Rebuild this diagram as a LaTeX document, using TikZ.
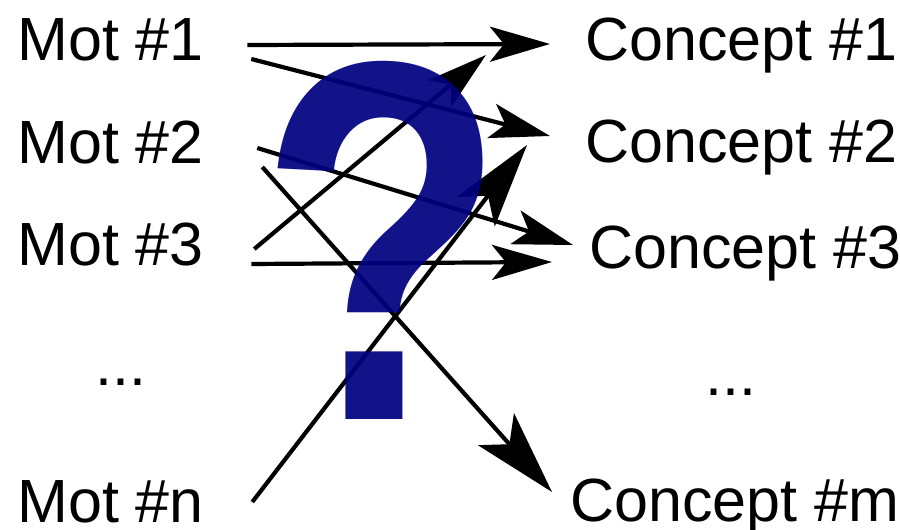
\documentclass[tikz,border=0pt]{standalone}
\usepackage{fontspec}
\setmainfont{Liberation Sans}
\usepackage{tikz}
\usetikzlibrary{arrows.meta,calc}
\definecolor{QNavy}{HTML}{000080}

\begin{document}
\begin{tikzpicture}[
  x=0.5pt, y=-0.5pt,
  wordtxt/.style={inner sep=0pt, anchor=base west, font=\fontsize{30.5}{36}\selectfont},
  linkarrow/.style={-{Stealth[length=30pt,width=17.5pt,inset=7pt]}, line width=2.1pt},
  longarrow/.style={-{Stealth[length=42pt,width=24pt,inset=10pt]}, line width=2.1pt},
  qmarkstyle/.style={inner sep=0pt, text=QNavy, text opacity=0.93, font=\fontsize{202}{202}\selectfont\bfseries}
]
\useasboundingbox (0,0) rectangle (900,530);
% mots
\node[wordtxt] (mot1) at (17,60) {Mot \#1};
\node[wordtxt] (mot2) at (17,163) {Mot \#2};
\node[wordtxt] (mot3) at (17,265) {Mot \#3};
\node[wordtxt] (motdots) at (95,385) {...};
\node[wordtxt] (motn) at (17,522) {Mot \#n};
% concepts
\node[wordtxt] (con1) at (585,60) {Concept \#1};
\node[wordtxt] (con2) at (585,162) {Concept \#2};
\node[wordtxt] (con3) at (589,268) {Concept \#3};
\node[wordtxt] (condots) at (705,395) {...};
\node[wordtxt] (conm) at (570,521) {Concept \#m};
% liens
\draw[linkarrow] ($(mot1.base east)+(43,-15)$) -- ($(con1.base west)+(-35,-16)$);
\draw[linkarrow] ($(mot1.base east)+(47,-1)$) -- ($(con2.base west)+(-35,-26)$);
\draw[linkarrow] ($(mot2.base east)+(53,-15)$) -- ($(con3.base west)+(-16,-23)$);
\draw[longarrow] ($(mot2.base east)+(58,4)$) -- ($(conm.base west)+(-18,-29)$);
\draw[linkarrow] ($(mot3.base east)+(50,-16)$) -- ($(con1.base west)+(-99,-5)$);
\draw[linkarrow] ($(mot3.base east)+(47,-1)$) -- ($(con3.base west)+(-37,-6)$);
\draw[longarrow] ($(motn.base east)+(48,-20)$) -- ($(con2.base west)+(-58,-17)$);
% point d'interrogation
\node[qmarkstyle] (qmark) at (383,240) {\scalebox{1}[1.27]{?}};
\end{tikzpicture}
\end{document}
